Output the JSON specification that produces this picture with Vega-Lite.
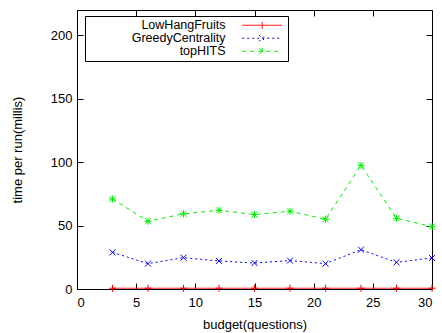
{
  "$schema": "https://vega.github.io/schema/vega-lite/v6.json",
  "width": 355,
  "height": 279,
  "autosize": "none",
  "padding": {"left": 77, "top": 10, "right": 10, "bottom": 44},
  "background": "white",
  "config": {
    "font": "Liberation Sans",
    "view": {"stroke": "black", "strokeWidth": 1},
    "axis": {"grid": false, "domain": false, "labelFont": "Liberation Sans", "labelFontSize": 13, "labelColor": "black", "titleFont": "Liberation Sans", "titleFontSize": 13, "titleFontWeight": "normal", "titleColor": "black", "tickColor": "black", "tickSize": -6, "labelPadding": 11}
  },
  "data": {"values": [
    {"budget": 3, "series": "LowHangFruits", "time": 0.6},
    {"budget": 6, "series": "LowHangFruits", "time": 0.6},
    {"budget": 9, "series": "LowHangFruits", "time": 0.6},
    {"budget": 12, "series": "LowHangFruits", "time": 0.6},
    {"budget": 15, "series": "LowHangFruits", "time": 0.6},
    {"budget": 18, "series": "LowHangFruits", "time": 0.6},
    {"budget": 21, "series": "LowHangFruits", "time": 0.6},
    {"budget": 24, "series": "LowHangFruits", "time": 0.6},
    {"budget": 27, "series": "LowHangFruits", "time": 0.6},
    {"budget": 30, "series": "LowHangFruits", "time": 0.6},
    {"budget": 3, "series": "GreedyCentrality", "time": 28.9},
    {"budget": 6, "series": "GreedyCentrality", "time": 20.0},
    {"budget": 9, "series": "GreedyCentrality", "time": 24.7},
    {"budget": 12, "series": "GreedyCentrality", "time": 22.1},
    {"budget": 15, "series": "GreedyCentrality", "time": 20.5},
    {"budget": 18, "series": "GreedyCentrality", "time": 22.4},
    {"budget": 21, "series": "GreedyCentrality", "time": 20.0},
    {"budget": 24, "series": "GreedyCentrality", "time": 31.0},
    {"budget": 27, "series": "GreedyCentrality", "time": 21.0},
    {"budget": 30, "series": "GreedyCentrality", "time": 24.5},
    {"budget": 3, "series": "topHITS", "time": 71.0},
    {"budget": 6, "series": "topHITS", "time": 53.4},
    {"budget": 9, "series": "topHITS", "time": 59.3},
    {"budget": 12, "series": "topHITS", "time": 62.1},
    {"budget": 15, "series": "topHITS", "time": 58.7},
    {"budget": 18, "series": "topHITS", "time": 61.3},
    {"budget": 21, "series": "topHITS", "time": 55.0},
    {"budget": 24, "series": "topHITS", "time": 97.5},
    {"budget": 27, "series": "topHITS", "time": 55.8},
    {"budget": 30, "series": "topHITS", "time": 49.2}
  ]},
  "layer": [
    {
      "mark": {"type": "line", "strokeWidth": 1, "clip": false},
      "encoding": {
        "x": {"field": "budget", "type": "quantitative", "scale": {"domain": [0, 30], "nice": false}, "axis": {"orient": "bottom", "values": [0, 5, 10, 15, 20, 25, 30], "title": "budget(questions)", "titlePadding": 9, "labelPadding": 13}},
        "y": {"field": "time", "type": "quantitative", "scale": {"domain": [0, 220], "nice": false}, "axis": {"orient": "left", "values": [0, 50, 100, 150, 200], "title": "time per run(millis)", "titlePadding": 26}},
        "color": {"field": "series", "type": "nominal", "scale": {"domain": ["LowHangFruits", "GreedyCentrality", "topHITS"], "range": ["#ff0000", "#0000ff", "#00ee00"]},
          "legend": {"title": null, "orient": "none", "legendX": 8, "legendY": 6, "symbolSize": 64, "symbolStrokeWidth": 1, "labelAlign": "right", "labelOffset": 125, "labelFontSize": 12.5, "labelFont": "Liberation Sans", "labelColor": "black", "rowPadding": 0, "strokeColor": "black", "padding": 3,
            "encode": {"symbols": {"update": {"shape": {"signal": "datum.value == 'LowHangFruits' ? 'M37,0L47,0M42,-0.875L42,0.875' : datum.value == 'GreedyCentrality' ? 'M37,0L47,0M41.2,-0.8L42.8,0.8M41.2,0.8L42.8,-0.8' : 'M37,0L47,0M42,-0.875L42,0.875M41.25,-0.75L42.75,0.75M41.25,0.75L42.75,-0.75'"}}}}}},
        "strokeDash": {"field": "series", "type": "nominal", "scale": {"domain": ["LowHangFruits", "GreedyCentrality", "topHITS"], "range": [[1, 0], [2, 3], [4, 4]]}, "legend": {"title": null}}
      }
    },
    {
      "mark": {"type": "point", "filled": false, "strokeWidth": 1, "size": 49, "opacity": 1, "clip": false},
      "encoding": {
        "x": {"field": "budget", "type": "quantitative", "axis": null},
        "y": {"field": "time", "type": "quantitative", "axis": null},
        "color": {"field": "series", "type": "nominal", "legend": null},
        "shape": {"field": "series", "type": "nominal", "scale": {"domain": ["LowHangFruits", "GreedyCentrality", "topHITS"], "range": ["M-1,0L1,0M0,-1L0,1", "M-0.85,-0.85L0.85,0.85M-0.85,0.85L0.85,-0.85", "M-1,0L1,0M0,-1L0,1M-0.85,-0.85L0.85,0.85M-0.85,0.85L0.85,-0.85"]}, "legend": null}
      }
    },
    {
      "mark": {"type": "point", "opacity": 0},
      "encoding": {
        "x": {"field": "budget", "type": "quantitative", "axis": {"orient": "top", "values": [0, 5, 10, 15, 20, 25, 30], "labels": false, "title": null}},
        "y": {"field": "time", "type": "quantitative", "axis": {"orient": "right", "values": [0, 50, 100, 150, 200], "labels": false, "title": null}}
      }
    }
  ],
  "resolve": {"axis": {"x": "independent", "y": "independent"}, "scale": {"shape": "independent"}, "legend": {"shape": "independent"}}
}
